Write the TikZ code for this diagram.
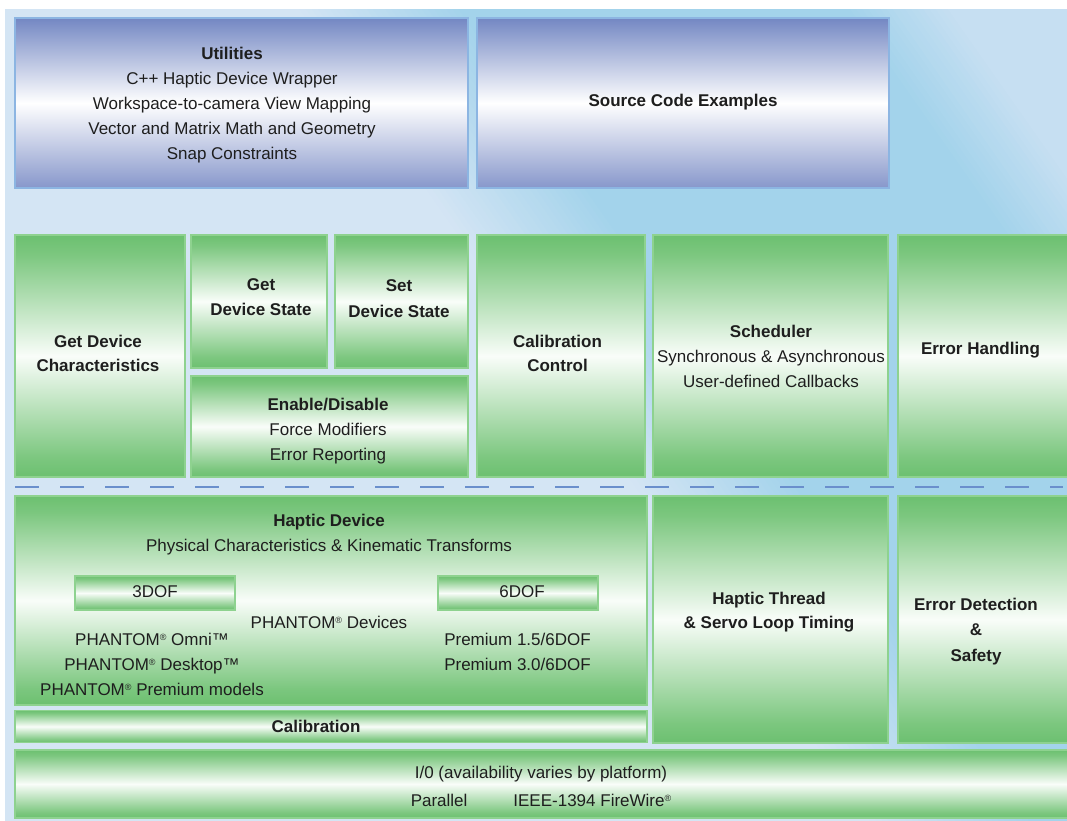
\documentclass[tikz,border=0pt]{standalone}
\usepackage{fontspec}
\setmainfont{Liberation Sans}
\definecolor{bgpale}{HTML}{D4E5F4}
\definecolor{bgsky}{HTML}{A3D3EB}
\definecolor{bglight}{HTML}{C6DFF2}
\definecolor{gA}{HTML}{6CC070}
\definecolor{gB}{HTML}{7CC77F}
\definecolor{gW}{HTML}{F9FDF9}
\definecolor{gline}{HTML}{8ED28F}
\definecolor{bT}{HTML}{7387C3}
\definecolor{bB}{HTML}{8797CB}
\definecolor{bline}{HTML}{8CB5E2}
\definecolor{dashc}{HTML}{6A8FCC}
\definecolor{txtc}{HTML}{1E1E1E}
\pgfdeclareverticalshading{gsh}{100bp}{color(0bp)=(gA); color(25bp)=(gA); color(29bp)=(gB); color(50bp)=(gW); color(71bp)=(gB); color(75bp)=(gA); color(100bp)=(gA)}
\pgfdeclareverticalshading{bsh}{100bp}{color(0bp)=(bB); color(25bp)=(bB); color(50bp)=(white); color(75bp)=(bT); color(100bp)=(bT)}
\newcommand\rg{\raisebox{5pt}{\fontsize{9}{9}\selectfont ®}}
\newcommand\bgband[3]{\fill[#1] (#2,-3000) -- (#3,-3000) -- (#3,3000) -- (#2,3000) -- cycle;}
\tikzset{
  gbox/.style={rectangle, inner sep=0pt, outer sep=0pt, shade, shading=gsh, draw=gline, line width=1.2pt},
  bbox/.style={rectangle, inner sep=0pt, outer sep=0pt, shade, shading=bsh, draw=bline, line width=1.5pt},
  txt/.style={inner sep=0pt, align=center, text=txtc, font=\fontsize{17}{25}\selectfont},
  sepline/.style={draw=dashc, line width=1.8pt, dash pattern=on 24pt off 21pt}
}
\begin{document}
\begin{tikzpicture}[x=1pt, y=-1pt]
\useasboundingbox (0,0) rectangle (1067,820);
\fill[white] (0,0) rectangle (1067,820);
% background
\begin{scope}
\clip (5,9) rectangle (1067,820);
\begin{scope}[shift={(380,10)}, x={(0.818pt,0.575pt)}, y={(0.575pt,-0.818pt)}]
\bgband{bgpale}{-3000}{-68}
\foreach \i in {0,...,27}{
  \pgfmathtruncatemacro\p{100*\i/27}
  \pgfmathsetmacro\a{-70+5*\i}
  \pgfmathsetmacro\b{-64+5*\i}
  \bgband{bgsky!\p!bgpale}{\a}{\b}
}
\bgband{bgsky}{70}{381}
\foreach \i in {0,...,17}{
  \pgfmathtruncatemacro\p{100*\i/17}
  \pgfmathsetmacro\a{380+5*\i}
  \pgfmathsetmacro\b{386+5*\i}
  \bgband{bglight!\p!bgsky}{\a}{\b}
}
\bgband{bglight}{470}{3000}
\end{scope}
\end{scope}

% top row
\node[bbox, minimum width=453pt, minimum height=170pt] (util) at (241.5,103) {};
\node[bbox, minimum width=412pt, minimum height=170pt] (src) at (683,103) {};

% middle row
\node[gbox, minimum width=170pt, minimum height=242pt] (gdc) at (100,356) {};
\node[gbox, minimum width=136pt, minimum height=133pt] (gds) at (259,301.5) {};
\node[gbox, minimum width=133pt, minimum height=133pt] (sds) at (401.5,301.5) {};
\node[gbox, minimum width=277pt, minimum height=101pt] (ena) at (329.5,426.5) {};
\node[gbox, minimum width=168pt, minimum height=242pt] (cal) at (561,356) {};
\node[gbox, minimum width=235pt, minimum height=242pt] (sch) at (770.5,356) {};
\node[gbox, minimum width=177pt, minimum height=242pt] (err) at (986.5,356) {};

% separator
\coordinate (dl) at (15,487);
\coordinate (dr) at (1063,487);
\draw[sepline] (dl) -- (dr);

% lower row
\node[gbox, minimum width=632pt, minimum height=209pt] (hd) at (331,600.5) {};
\node[gbox, minimum width=632pt, minimum height=32pt] (calib) at (331,726.5) {};
\node[gbox, minimum width=235pt, minimum height=247pt] (ht) at (770.5,619.5) {};
\node[gbox, minimum width=177pt, minimum height=247pt] (eds) at (986.5,619.5) {};
\node[gbox, minimum width=1060pt, minimum height=68pt] (io) at (545,784) {};
\node[gbox, minimum width=160pt, minimum height=34pt] (dof3) at (155,593) {};
\node[gbox, minimum width=160pt, minimum height=34pt] (dof6) at (518,593) {};

% texts
\node[txt] (utilt) at (232,105.5) {\textbf{Utilities}\\C++ Haptic Device Wrapper\\Workspace-to-camera View Mapping\\Vector and Matrix Math and Geometry\\Snap Constraints};
\node[txt] (srct) at (683,102) {\textbf{Source Code Examples}};
\node[txt, font=\fontsize{17}{24}\selectfont\bfseries] (gdct) at (98,353) {Get Device\\Characteristics};
\node[txt, font=\fontsize{17}{25}\selectfont\bfseries] (gdst) at (261,297.5) {Get\\Device State};
\node[txt, font=\fontsize{17}{26}\selectfont\bfseries] (sdst) at (399,299) {Set\\Device State};
\node[txt] (enat) at (328,431) {\textbf{Enable/Disable}\\Force Modifiers\\Error Reporting};
\node[txt, font=\fontsize{17}{24}\selectfont\bfseries] (calt) at (557.5,353) {Calibration\\Control};
\node[txt] (scht) at (771,356) {\textbf{Scheduler}\\Synchronous \& Asynchronous\\User-defined Callbacks};
\node[txt, font=\fontsize{17}{25}\selectfont\bfseries] (errt) at (980.5,350) {Error Handling};

\node[txt] (hdt) at (329,534.5) {\textbf{Haptic Device}\\Physical Characteristics \& Kinematic Transforms};
\node[txt] (dof3t) at (155,592) {3DOF};
\node[txt] (dof6t) at (522,592) {6DOF};
\node[txt] (phdt) at (329,622) {PHANTOM\rg{} Devices};
\node[txt] (leftt) at (152,664) {PHANTOM\rg{} Omni™\\PHANTOM\rg{} Desktop™\\PHANTOM\rg{} Premium models};
\node[txt] (rightt) at (517.5,651.5) {Premium 1.5/6DOF\\Premium 3.0/6DOF};
\node[txt, font=\fontsize{17}{25}\selectfont\bfseries] (calibt) at (316,726) {Calibration};
\node[txt, font=\fontsize{17}{24}\selectfont\bfseries] (htt) at (769,612) {Haptic Thread\\\& Servo Loop Timing};
\node[txt, font=\fontsize{17}{25.5}\selectfont\bfseries] (edst) at (976,631.5) {Error Detection\\\&\\Safety};
\node[txt, font=\fontsize{17}{28}\selectfont] (iot) at (541,786) {I/0 (availability varies by platform)\\Parallel\hspace{46pt}IEEE-1394 FireWire\rg};
\end{tikzpicture}
\end{document}
